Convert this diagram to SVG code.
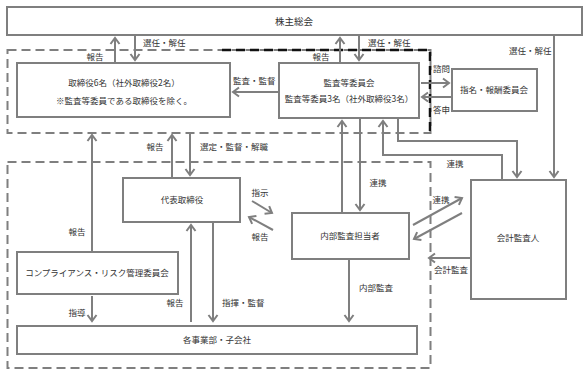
<svg xmlns="http://www.w3.org/2000/svg" width="588" height="374" viewBox="0 0 588 374">
<style>
.box{fill:#fff;stroke:#7f7f7f;stroke-width:2}
.t{font-family:"Noto Sans CJK JP","Noto Sans",sans-serif;font-size:8.5px;fill:#333}
.m{text-anchor:middle}
.c{fill:none;stroke:#7f7f7f;stroke-width:2}
.a{marker-end:url(#ah)}
.dg{fill:none;stroke:#7f7f7f;stroke-width:2;stroke-dasharray:9 5}
.dk{fill:none;stroke:#111;stroke-width:2.5;stroke-dasharray:9 5}
</style>
<defs>
<marker id="ah" markerUnits="userSpaceOnUse" markerWidth="14" markerHeight="14" refX="0" refY="0" viewBox="-8 -7 10 14" orient="auto" overflow="visible">
<path d="M-6,-4.5 L0,0 L-6,4.5" fill="none" stroke="#7f7f7f" stroke-width="2"/>
</marker>
</defs>
<rect width="588" height="374" fill="#fff"/>
<g id="groups">
<rect class="dg" x="7.5" y="50" width="423" height="83"/>
<path class="dk" d="M222,50 H430 V132"/>
<rect class="dg" x="7.5" y="162" width="423" height="206"/>
</g>
<g id="n-shareholders"><rect class="box" x="7" y="7" width="575" height="28"/><text class="t m" x="294" y="25" style="font-size:9.5px">株主総会</text></g>
<g id="n-board"><rect class="box" x="17" y="63" width="213" height="54"/><text class="t m" x="124" y="86">取締役6名（社外取締役2名）</text><text class="t m" x="124" y="104">※監査等委員である取締役を除く。</text></g>
<g id="n-audit-committee"><rect class="box" x="279" y="63" width="140" height="55"/><text class="t m" x="349" y="86">監査等委員会</text><text class="t m" x="349" y="102">監査等委員3名（社外取締役3名）</text></g>
<g id="n-nomination"><rect class="box" x="452" y="69" width="85" height="42"/><text class="t m" x="494" y="93">指名・報酬委員会</text></g>
<g id="n-accounting-auditor"><rect class="box" x="471" y="180" width="95" height="119"/><text class="t m" x="518" y="241">会計監査人</text></g>
<g id="n-ceo"><rect class="box" x="123" y="178" width="117" height="44"/><text class="t m" x="182" y="203">代表取締役</text></g>
<g id="n-internal-audit"><rect class="box" x="292" y="213" width="117" height="46"/><text class="t m" x="350" y="239">内部監査担当者</text></g>
<g id="n-compliance"><rect class="box" x="17" y="252" width="161" height="42"/><text class="t m" x="97" y="276">コンプライアンス・リスク管理委員会</text></g>
<g id="n-divisions"><rect class="box" x="17" y="326" width="400" height="28"/><text class="t m" x="217" y="343">各事業部・子会社</text></g>
<g id="connectors">
<path class="c a" d="M115,63 V38"/>
<path class="c a" d="M135,35 V60"/>
<path class="c a" d="M340,63 V38"/>
<path class="c a" d="M359,35 V60"/>
<path class="c a" d="M279,92 H233"/>
<path class="c a" d="M421,83 H449"/>
<path class="c a" d="M452,97 H422"/>
<path class="c a" d="M554,35 V177"/>
<path class="c a" d="M342,213 V121"/>
<path class="c a" d="M360,118 V210"/>
<path class="c a" d="M502,180 V155 H383 V121"/>
<path class="c a" d="M398,118 V141 H517 V177"/>
<path class="c a" d="M413,225 L462,198"/>
<path class="c a" d="M462,213 L414,239"/>
<path class="c a" d="M471,258 H429"/>
<path class="c a" d="M349,259 V321"/>
<path class="c a" d="M92,252 V135"/>
<path class="c a" d="M172,178 V135"/>
<path class="c a" d="M190,133 V175"/>
<path class="c a" d="M252,201 L272,213"/>
<path class="c a" d="M273,230 L249,217"/>
<path class="c a" d="M191,322 V225"/>
<path class="c a" d="M213,222 V321"/>
<path class="c a" d="M92,296 V321"/>
</g>
<g id="labels">
<text class="t" x="143" y="46">選任・解任</text>
<text class="t m" x="95" y="60">報告</text>
<text class="t" x="368" y="46">選任・解任</text>
<text class="t m" x="321" y="60">報告</text>
<text class="t" x="509" y="54">選任・解任</text>
<text class="t" x="233" y="84">監査・監督</text>
<text class="t" x="433" y="72">諮問</text>
<text class="t" x="433" y="113">答申</text>
<text class="t m" x="155" y="150">報告</text>
<text class="t" x="200" y="150">選定・監督・解職</text>
<text class="t m" x="260" y="196">指示</text>
<text class="t m" x="260" y="240">報告</text>
<text class="t m" x="378" y="186">連携</text>
<text class="t m" x="455" y="167">連携</text>
<text class="t m" x="441" y="203">連携</text>
<text class="t" x="434" y="273">会計監査</text>
<text class="t" x="359" y="291">内部監査</text>
<text class="t m" x="77" y="235">報告</text>
<text class="t m" x="175" y="306">報告</text>
<text class="t" x="222" y="306">指揮・監督</text>
<text class="t m" x="77" y="316">指導</text>
</g>
</svg>
